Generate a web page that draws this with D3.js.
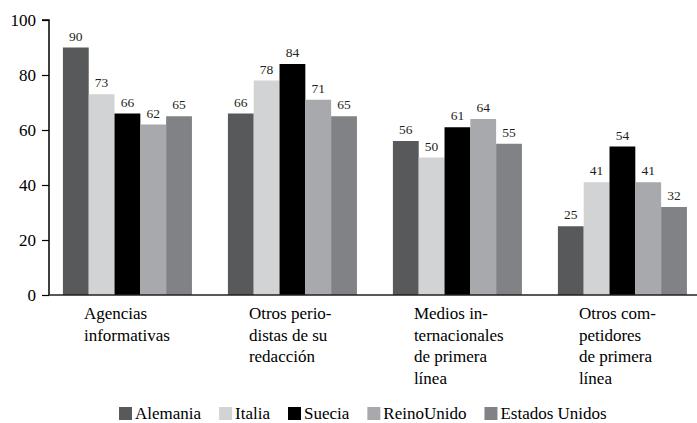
<!DOCTYPE html>
<html>
<head>
<meta charset="utf-8">
<script src="https://cdn.jsdelivr.net/npm/d3@7"></script>
<style>
  html, body { margin: 0; padding: 0; background: #fff; }
  svg { display: block; }
  svg text { font-family: 'Liberation Serif', 'DejaVu Serif', 'Times New Roman', serif; }
</style>
</head>
<body>
<svg id="chart" width="697" height="423"></svg>
<script>
// Categorías (cada una con sus líneas de texto)
const categories = [
  "Agencias informativas",
  "Otros periodistas de su redacción",
  "Medios internacionales de primera línea",
  "Otros competidores de primera línea"
];
const categoryLines = [
  ["Agencias", "informativas"],
  ["Otros perio-", "distas de su", "redacción"],
  ["Medios in-", "ternacionales", "de primera", "línea"],
  ["Otros com-", "petidores", "de primera", "línea"]
];
const countries = ["Alemania", "Italia", "Suecia", "ReinoUnido", "Estados Unidos"];
const alemania = [90, 66, 56, 25];
const italia = [73, 78, 50, 41];
const suecia = [66, 84, 61, 54];
const reinoUnido = [62, 71, 64, 41];
const estadosUnidos = [65, 65, 55, 32];
const yTicks = [0, 20, 40, 60, 80, 100];
const colors = ["#58595b", "#d1d3d4", "#000000", "#a7a9ac", "#808285"];

const seriesValues = [alemania, italia, suecia, reinoUnido, estadosUnidos];
const serif = "'Liberation Serif', 'DejaVu Serif', 'Times New Roman', serif";

const svg = d3.select("#chart").attr("font-family", serif);
const plotLeft = 49, plotRight = 697, plotTop = 20, plotBottom = 295;

const x0 = d3.scaleBand()
  .domain(categories)
  .range([plotLeft, plotRight])
  .paddingInner(0.218)
  .paddingOuter(0.0727)
  .align(0.58);

const x1 = d3.scaleBand()
  .domain(countries)
  .range([0, x0.bandwidth()])
  .padding(0);

const y = d3.scaleLinear().domain([0, 100]).range([plotBottom, plotTop]);

const color = d3.scaleOrdinal().domain(countries).range(colors);

// Barras por grupo
const groups = svg.append("g").selectAll("g")
  .data(categories)
  .join("g")
  .attr("transform", d => `translate(${x0(d)},0)`);

groups.selectAll("rect")
  .data((c, i) => countries.map((s, j) => ({ s, v: seriesValues[j][i] })))
  .join("rect")
  .attr("x", d => x1(d.s))
  .attr("y", d => y(d.v))
  .attr("width", x1.bandwidth())
  .attr("height", d => y(0) - y(d.v))
  .attr("fill", d => color(d.s));

groups.selectAll("text.val")
  .data((c, i) => countries.map((s, j) => ({ s, v: seriesValues[j][i] })))
  .join("text")
  .attr("class", "val")
  .attr("x", d => x1(d.s) + x1.bandwidth() / 2)
  .attr("y", d => y(d.v) - 7)
  .attr("text-anchor", "middle")
  .attr("font-family", serif)
  .attr("font-size", "13.5px")
  .attr("fill", "#231f20")
  .text(d => d.v);

// Eje Y
const yAxis = svg.append("g")
  .attr("transform", `translate(${plotLeft},0)`)
  .call(d3.axisLeft(y).tickValues(yTicks).tickSize(7).tickPadding(6));
yAxis.attr("font-family", serif);
yAxis.select(".domain").attr("stroke", "#000").attr("stroke-width", 1.5)
  .attr("d", `M-7,${plotTop}H0V${plotBottom}`);
yAxis.selectAll(".tick line").attr("stroke", "#000").attr("stroke-width", 1.2);
yAxis.selectAll(".tick text")
  .attr("font-family", serif)
  .attr("font-size", "17px")
  .attr("fill", "#000");

// Eje X
svg.append("line")
  .attr("x1", plotLeft).attr("x2", plotRight)
  .attr("y1", y(0)).attr("y2", y(0))
  .attr("stroke", "#231f20").attr("stroke-width", 1.5);

// Etiquetas de categoría
const catLabels = svg.append("g").selectAll("text")
  .data(categories)
  .join("text")
  .attr("x", d => x0(d) + 21)
  .attr("y", 319)
  .attr("font-family", serif)
  .attr("font-size", "17px")
  .attr("fill", "#000");
catLabels.selectAll("tspan")
  .data((d, i) => categoryLines[i])
  .join("tspan")
  .attr("x", function () { return d3.select(this.parentNode).attr("x"); })
  .attr("dy", (d, i) => i === 0 ? 0 : 21.5)
  .text(d => d);

// Leyenda
const legend = svg.append("g");
let lx = 119;
countries.forEach((c, i) => {
  legend.append("rect")
    .attr("x", lx).attr("y", 407)
    .attr("width", 13).attr("height", 13)
    .attr("fill", colors[i]);
  const t = legend.append("text")
    .attr("x", lx + 16).attr("y", 419)
    .attr("font-family", serif)
    .attr("font-size", "17px")
    .attr("fill", "#000")
    .text(c);
  lx += 16 + t.node().getComputedTextLength() + 18;
});
</script>
</body>
</html>
